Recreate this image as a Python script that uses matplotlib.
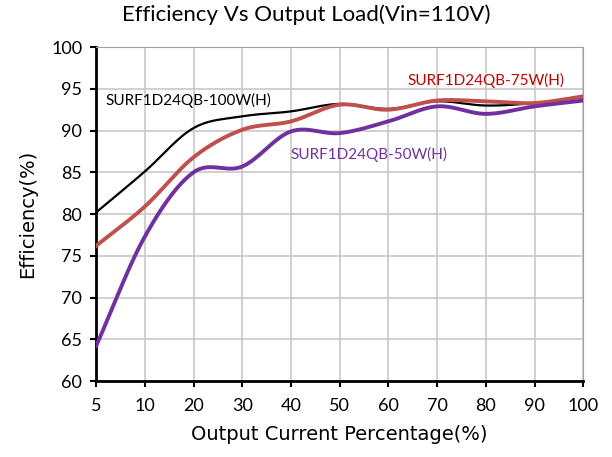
import numpy as np
import matplotlib
matplotlib.use("Agg")
import matplotlib.pyplot as plt

plt.rcParams['font.family'] = ['Lato', 'DejaVu Sans']

# datos
cargas = ["5", "10", "20", "30", "40", "50", "60", "70", "80", "90", "100"]
ef_100w = [80.2, 85.1, 90.3, 91.7, 92.3, 93.2, 92.6, 93.5, 93.0, 93.3, 94.0]
ef_75w = [76.2, 80.9, 86.8, 90.1, 91.1, 93.1, 92.5, 93.6, 93.5, 93.3, 94.1]
ef_50w = [64.2, 77.3, 85.0, 85.7, 89.9, 89.7, 91.1, 92.9, 92.0, 92.9, 93.6]


def suavizar(y, n=30):
    # Catmull-Rom para imitar la linea suavizada de Excel
    y = np.asarray(y, dtype=float)
    x = np.arange(len(y), dtype=float)
    px = np.concatenate([[2 * x[0] - x[1]], x, [2 * x[-1] - x[-2]]])
    py = np.concatenate([[2 * y[0] - y[1]], y, [2 * y[-1] - y[-2]]])
    xs, ys = [], []
    for i in range(1, len(px) - 2):
        t = np.linspace(0, 1, n, endpoint=False)
        for p, out in ((px, xs), (py, ys)):
            p0, p1, p2, p3 = p[i - 1], p[i], p[i + 1], p[i + 2]
            out.extend(0.5 * ((2 * p1) + (-p0 + p2) * t
                              + (2 * p0 - 5 * p1 + 4 * p2 - p3) * t ** 2
                              + (-p0 + 3 * p1 - 3 * p2 + p3) * t ** 3))
    xs.append(x[-1])
    ys.append(y[-1])
    return np.array(xs), np.array(ys)


fig = plt.figure(figsize=(6.12, 4.57), dpi=100)
ax = fig.add_axes([0.157, 0.166, 0.796, 0.731])

for datos, color, ancho in ((ef_100w, "black", 1.6),
                            (ef_75w, "#c0504d", 2.8),
                            (ef_50w, "#7030a0", 2.8)):
    xs, ys = suavizar(datos)
    ax.plot(xs, ys, color=color, linewidth=ancho, zorder=3)

ax.set_xlim(0, len(cargas) - 1)
ax.set_ylim(60, 100)
ax.set_xticks(range(len(cargas)))
ax.set_xticklabels(cargas)
ax.set_yticks(range(60, 101, 5))
ax.tick_params(labelsize=13, length=4, width=1.5)
ax.tick_params(axis="x", pad=8)
ax.tick_params(axis="y", pad=6)
ax.grid(True, color="#c8c8c8", linewidth=1.2)
ax.set_axisbelow(True)

ax.spines["left"].set_linewidth(2)
ax.spines["bottom"].set_linewidth(2)
ax.spines["right"].set_color("#a0a0a0")
ax.spines["top"].set_color("#a0a0a0")

ax.text(0.2, 93.6, "SURF1D24QB-100W(H)", color="black", fontsize=11, va="center")
ax.text(6.4, 96.0, "SURF1D24QB-75W(H)", color="#c00000", fontsize=11, va="center")
ax.text(4.0, 87.1, "SURF1D24QB-50W(H)", color="#7030a0", fontsize=11, va="center")

ax.set_xlabel("Output Current Percentage(%)", fontsize=14, family="DejaVu Sans", labelpad=8)
ax.set_ylabel("Efficiency(%)", fontsize=14, family="DejaVu Sans", labelpad=10)
fig.suptitle("Efficiency Vs Output Load(Vin=110V)", fontsize=16, y=0.99)

fig.savefig("out.png", dpi=100)
